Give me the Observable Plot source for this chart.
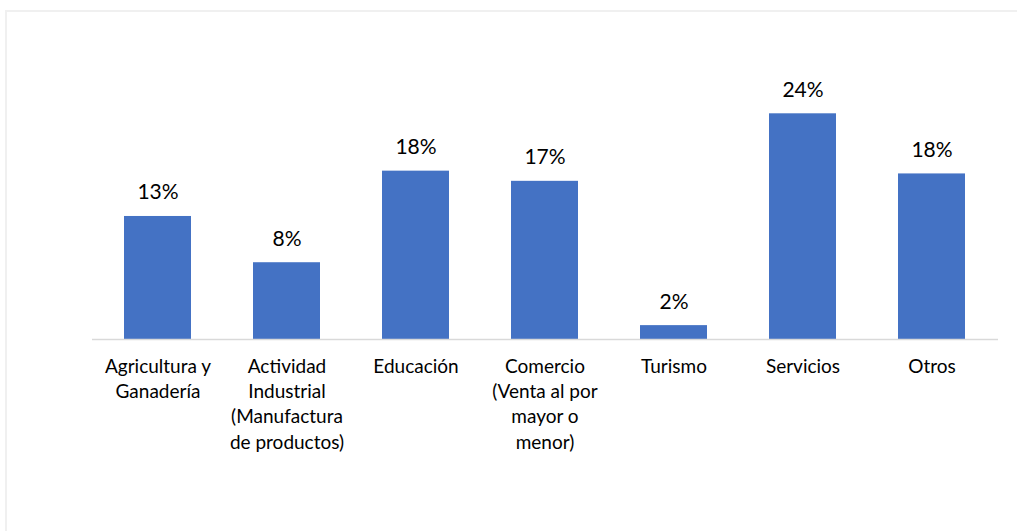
<!DOCTYPE html>
<html>
<head>
<meta charset="utf-8">
<script src="https://cdn.jsdelivr.net/npm/d3@7"></script>
<script src="https://cdn.jsdelivr.net/npm/@observablehq/plot@0.6"></script>
<style>
  html, body { margin: 0; padding: 0; background: #fff; }
  #wrap { position: relative; width: 1017px; height: 531px; overflow: hidden; }
  #frame { position: absolute; left: 5px; top: 10px; width: 1030px; height: 540px;
           border-left: 2px solid #f0f0f0; border-top: 2px solid #f0f0f0; box-sizing: border-box; }
  #chart { position: absolute; left: 0; top: 0; }
</style>
</head>
<body>
<div id="wrap"><div id="frame"></div><div id="chart"></div></div>
<script>
const categories = ["Agricultura y Ganadería", "Actividad Industrial (Manufactura de productos)", "Educación", "Comercio (Venta al por mayor o menor)", "Turismo", "Servicios", "Otros"];
const tickLabels = ["Agricultura y\nGanadería", "Actividad\nIndustrial\n(Manufactura\nde productos)", "Educación", "Comercio\n(Venta al por\nmayor o\nmenor)", "Turismo", "Servicios", "Otros"];
const values = [13.3, 8.3, 18.2, 17.1, 1.5, 24.4, 17.9];

const data = categories.map((c, i) => ({category: c, value: values[i]}));
const labelOf = new Map(categories.map((c, i) => [c, tickLabels[i]]));

const font = "Lato, 'Open Sans', sans-serif";
const plot = Plot.plot({
  width: 1017,
  height: 531,
  marginLeft: 92,
  marginRight: 19,
  marginTop: 98.5,
  marginBottom: 192,
  style: {fontFamily: font, fontSize: "18px", color: "#000", background: "transparent"},
  x: {domain: categories, paddingInner: 0.48, paddingOuter: 0.24, axis: null, label: null},
  y: {domain: [0, 26], axis: null, label: null},
  marks: [
    Plot.barY(data, {x: "category", y: "value", fill: "#4472C4"}),
    Plot.ruleY([0], {stroke: "#d9d9d9", strokeWidth: 1.3}),
    Plot.axisX({
      label: null,
      tickSize: 0,
      tickPadding: 0,
      tickFormat: d => labelOf.get(d),
      lineHeight: 1.32,
      fontSize: 19,
      fill: "#000",
      dy: 16,
      lineAnchor: "top"
    }),
    Plot.text(data, {
      x: "category", y: "value",
      text: d => Math.round(d.value) + "%",
      dy: -17, lineAnchor: "bottom", fontSize: 21, fill: "#000"
    })
  ]
});
document.getElementById("chart").appendChild(plot);
</script>
</body>
</html>
